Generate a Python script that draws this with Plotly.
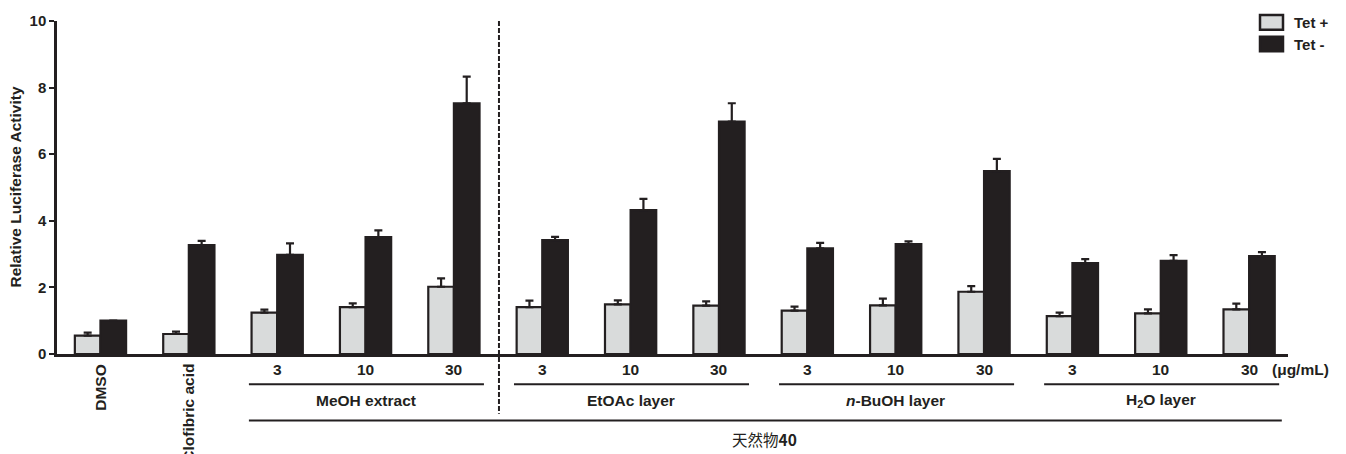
import plotly.graph_objects as go

# ---- data ----
categories = ["DMSO", "Clofibric acid",
              "MeOH 3", "MeOH 10", "MeOH 30",
              "EtOAc 3", "EtOAc 10", "EtOAc 30",
              "n-BuOH 3", "n-BuOH 10", "n-BuOH 30",
              "H2O 3", "H2O 10", "H2O 30"]
tet_plus = [0.55, 0.60, 1.24, 1.41, 2.02, 1.41, 1.49, 1.45, 1.30, 1.46, 1.87, 1.14, 1.22, 1.34]
tet_plus_err = [0.09, 0.07, 0.09, 0.11, 0.25, 0.19, 0.12, 0.13, 0.12, 0.20, 0.17, 0.10, 0.12, 0.17]
tet_minus = [1.00, 3.27, 2.98, 3.51, 7.53, 3.42, 4.32, 6.98, 3.17, 3.30, 5.49, 2.73, 2.80, 2.94]
tet_minus_err = [0.0, 0.13, 0.34, 0.20, 0.80, 0.10, 0.34, 0.55, 0.17, 0.08, 0.37, 0.12, 0.17, 0.12]
dose_labels = ["3", "10", "30"]
group_names = ["MeOH extract", "EtOAc layer", "<i>n</i>-BuOH layer", "H<sub>2</sub>O layer"]
y_ticks = [0, 2, 4, 6, 8, 10]

DARK = "#231f20"
LIGHT = "#d9dbdb"
FONT = "Liberation Sans"
FS = 15.5

x_idx = list(range(len(categories)))

fig = go.Figure()
fig.add_trace(go.Bar(
    x=x_idx, y=tet_plus, name="Tet +",
    marker=dict(color=LIGHT, line=dict(color=DARK, width=2.2)),
    error_y=dict(type="data", array=tet_plus_err, arrayminus=[0] * len(tet_plus),
                 symmetric=False, color=DARK, thickness=2.2, width=4),
))
fig.add_trace(go.Bar(
    x=x_idx, y=tet_minus, name="Tet -",
    marker=dict(color=DARK, line=dict(color=DARK, width=2.2)),
    error_y=dict(type="data", array=tet_minus_err, arrayminus=[0] * len(tet_minus),
                 symmetric=False, color=DARK, thickness=2.2, width=4),
))

# layout geometry (pixels)
W, H = 1346, 454
L, R, T, B = 57, 58, 14, 100
PW, PH = W - L - R, H - T - B


def py(pixel_y):
    """paper y for a pixel row"""
    return (H - B - pixel_y) / PH


def px(pixel_x):
    return (pixel_x - L) / PW


annotations = []
shapes = []

# category labels (rotated)
for i, lab in enumerate(["DMSO", "Clofibric acid"]):
    annotations.append(dict(x=i, xref="x", y=py(362), yref="paper", text="<b>%s</b>" % lab,
                            textangle=-90, xanchor="center", yanchor="top", showarrow=False,
                            font=dict(family=FONT, size=FS, color=DARK)))

# dose labels
for g in range(4):
    for k, d in enumerate(dose_labels):
        annotations.append(dict(x=2 + 3 * g + k, xref="x", y=py(370), yref="paper",
                                text="<b>%s</b>" % d, showarrow=False,
                                xanchor="center", yanchor="middle",
                                font=dict(family=FONT, size=FS, color=DARK)))
    # group line
    shapes.append(dict(type="line", xref="x", yref="paper",
                       x0=2 + 3 * g - 0.32, x1=2 + 3 * g + 2 + 0.34, y0=py(385), y1=py(385),
                       line=dict(color=DARK, width=2)))
    annotations.append(dict(x=3 + 3 * g, xref="x", y=py(401), yref="paper",
                            text="<b>%s</b>" % group_names[g], showarrow=False,
                            xanchor="center", yanchor="middle",
                            font=dict(family=FONT, size=FS, color=DARK)))

annotations.append(dict(x=px(1270), xref="paper", y=py(370), yref="paper",
                        text="<b>(μg/mL)</b>", showarrow=False, xanchor="left", yanchor="middle",
                        font=dict(family=FONT, size=FS, color=DARK)))

# long line and compound label
shapes.append(dict(type="line", xref="x", yref="paper", x0=1.68, x1=13.37, y0=py(422), y1=py(422),
                   line=dict(color=DARK, width=2)))
annotations.append(dict(x=7.52, xref="x", y=py(441), yref="paper",
                        text="天然物<b>40</b>", showarrow=False, xanchor="center", yanchor="middle",
                        font=dict(family="Noto Sans CJK SC", size=FS, color=DARK)))

# dashed separator
shapes.append(dict(type="line", xref="x", yref="paper", x0=4.51, x1=4.51, y0=1.0, y1=py(415),
                   line=dict(color=DARK, width=2, dash="5px,2px")))

# y-axis title
annotations.append(dict(x=0, xref="paper", xshift=-42, y=0.5, yref="paper",
                        text="<b>Relative Luciferase Activity</b>", textangle=-90, showarrow=False,
                        xanchor="center", yanchor="middle",
                        font=dict(family=FONT, size=FS, color=DARK)))

# custom legend
for j, (nm, col) in enumerate([("Tet +", LIGHT), ("Tet -", DARK)]):
    top = 8 + j * 22
    shapes.append(dict(type="rect", xref="paper", yref="paper",
                       x0=px(1260), x1=px(1283), y0=py(top), y1=py(top + 15),
                       fillcolor=col, line=dict(color=DARK, width=2.5)))
    annotations.append(dict(x=px(1292), xref="paper", y=py(top + 7.5), yref="paper",
                            text="<b>%s</b>" % nm, showarrow=False, xanchor="left", yanchor="middle",
                            font=dict(family=FONT, size=15, color=DARK)))

fig.update_layout(
    width=W, height=H,
    margin=dict(l=L, r=R, t=T, b=B, pad=0),
    paper_bgcolor="white", plot_bgcolor="white",
    barmode="group", bargap=0.42, bargroupgap=0.0,
    showlegend=False,
    annotations=annotations, shapes=shapes,
    font=dict(family=FONT, color=DARK),
    xaxis=dict(range=[-0.492, 13.44], showticklabels=False, ticks="", showgrid=False,
               zeroline=False, showline=True, linecolor=DARK, linewidth=2.5),
    yaxis=dict(range=[0, 10], tickvals=y_ticks, ticks="outside", ticklen=5, tickwidth=2,
               tickcolor=DARK, showgrid=False, zeroline=False, showline=True,
               linecolor=DARK, linewidth=2.5,
               tickfont=dict(family=FONT, size=15, color=DARK, weight="bold")),
)

fig.write_html("out.html")
